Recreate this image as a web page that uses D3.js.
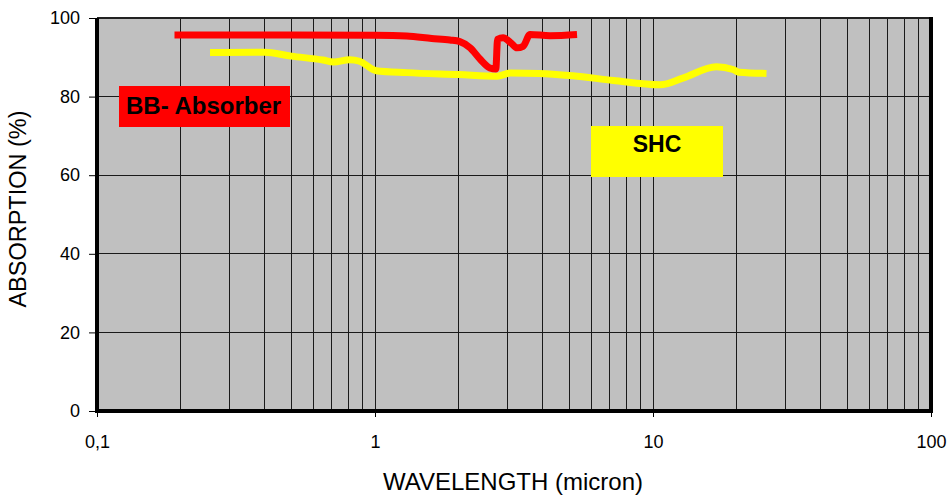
<!DOCTYPE html>
<html><head><meta charset="utf-8">
<script src="https://cdn.jsdelivr.net/npm/d3@7"></script>
<style>body{margin:0;background:#fff}svg{display:block}</style>
</head><body>
<svg id="c" width="952" height="498"></svg>
<script>
const xTickLabels = ["0,1","1","10","100"];
const xTickValues = [0.1,1,10,100];
const yTickValues = [0,20,40,60,80,100];
const bbWavelength = [0.19,0.5,1.0,1.3,1.6,1.86,2.02,2.2,2.39,2.59,2.72,2.76,2.89,3.1,3.24,3.41,3.61,4.26,5.33];
const bbAbsorption = [95.7,95.7,95.6,95.4,94.8,94.4,94.0,92.4,89.5,87.3,87.0,94.6,95.0,93.5,92.4,92.8,95.8,95.5,95.8];
const shcWavelength = [0.255,0.4,0.5,0.65,0.71,0.81,0.88,1.01,1.3,2.0,2.75,3.07,3.9,5.15,7.2,10.6,12.8,16.9,19.4,20.4,25.6];
const shcAbsorption = [91.2,91.3,90.3,89.3,88.8,89.4,89.0,86.6,86.1,85.6,85.2,86.0,85.9,85.3,84.1,83.0,84.7,87.6,86.9,86.2,85.9];

const svg = d3.select("#c");
const L=97,R=931,T=18,B=411;
const x = d3.scaleLog().domain([0.1,100]).range([L,R]);
const y = d3.scaleLinear().domain([0,100]).range([B,T]);
const font = "Arial, 'Liberation Sans', sans-serif";

svg.append("rect").attr("x",L).attr("y",T).attr("width",R-L).attr("height",B-T).attr("fill","#c0c0c0");

// vertical grid
const vg=[];
for(let d=0.1; d<100; d*=10){ for(let k=1;k<10;k++){ const v=d*k; if(v>0.1*1.0001 && v<99.99) vg.push(v);} }
svg.append("g").selectAll("line").data(vg).join("line")
  .attr("x1",d=>x(d)).attr("x2",d=>x(d)).attr("y1",T).attr("y2",B)
  .attr("stroke","#1a1a1a").attr("stroke-width",1).attr("shape-rendering","crispEdges");
// horizontal grid
svg.append("g").selectAll("line").data([20,40,60,80]).join("line")
  .attr("x1",L).attr("x2",R).attr("y1",d=>y(d)).attr("y2",d=>y(d))
  .attr("stroke","#1a1a1a").attr("stroke-width",1).attr("shape-rendering","crispEdges");

const line = d3.line().x(d=>x(d[0])).y(d=>y(d[1])).curve(d3.curveMonotoneX);
const shc = shcWavelength.map((w,i)=>[w,shcAbsorption[i]]);
const bb = bbWavelength.map((w,i)=>[w,bbAbsorption[i]]);
svg.append("path").attr("d",line(shc)).attr("fill","none").attr("stroke","#ffff00").attr("stroke-width",7).attr("stroke-linejoin","round");
svg.append("path").attr("d",line(bb)).attr("fill","none").attr("stroke","#ff0000").attr("stroke-width",7).attr("stroke-linejoin","round");

// borders
svg.append("line").attr("x1",L).attr("x2",R).attr("y1",T).attr("y2",T).attr("stroke","#222").attr("stroke-width",2);
svg.append("line").attr("x1",L-2).attr("x2",R+2).attr("y1",B).attr("y2",B).attr("stroke","#000").attr("stroke-width",4);
svg.append("line").attr("x1",L).attr("x2",L).attr("y1",T).attr("y2",B).attr("stroke","#000").attr("stroke-width",4);
svg.append("line").attr("x1",R).attr("x2",R).attr("y1",T-1).attr("y2",B).attr("stroke","#000").attr("stroke-width",4);

// axes
const xAxis = d3.axisBottom(x).tickValues(xTickValues).tickFormat((d,i)=>xTickLabels[i]).tickSize(6).tickSizeOuter(0);
const gx = svg.append("g").attr("transform",`translate(0,${B})`).call(xAxis);
gx.select(".domain").remove();
gx.selectAll("line").attr("stroke","#000");
gx.selectAll("text").attr("font-family",font).attr("font-size",18).attr("fill","#000").attr("y",24).attr("dy","0.71em");
const yAxis = d3.axisLeft(y).tickValues(yTickValues).tickSize(7).tickSizeOuter(0);
const gy = svg.append("g").attr("transform",`translate(${L-1},0)`).call(yAxis);
gy.select(".domain").remove();
gy.selectAll("line").attr("stroke","#000");
gy.selectAll("text").attr("font-family",font).attr("font-size",18).attr("fill","#000").attr("x",-16);

svg.append("text").attr("x",513).attr("y",490).attr("text-anchor","middle").attr("font-family",font).attr("font-size",24).text("WAVELENGTH (micron)");
svg.append("text").attr("transform","translate(26,209) rotate(-90)").attr("text-anchor","middle").attr("font-family",font).attr("font-size",23.5).text("ABSORPTION (%)");

// labels
svg.append("rect").attr("x",119).attr("y",86).attr("width",171).attr("height",41).attr("fill","#ff0000");
svg.append("text").attr("x",126).attr("y",114).attr("font-family",font).attr("font-weight","bold").attr("font-size",24).text("BB- Absorber");
svg.append("rect").attr("x",591).attr("y",126).attr("width",132).attr("height",51).attr("fill","#ffff00");
svg.append("text").attr("x",657).attr("y",152).attr("text-anchor","middle").attr("font-family",font).attr("font-weight","bold").attr("font-size",23).text("SHC");
</script>
</body></html>
